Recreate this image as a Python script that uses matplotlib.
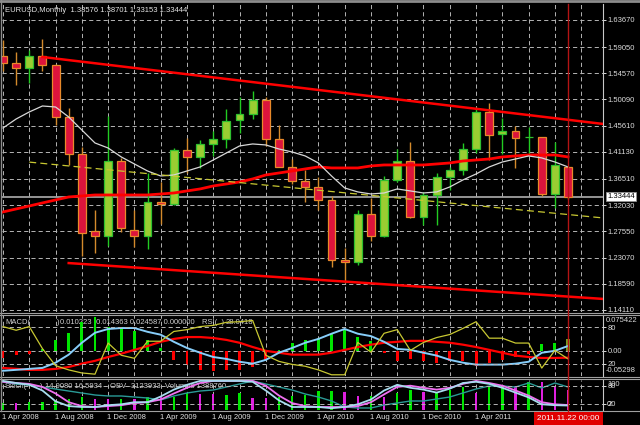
import matplotlib
matplotlib.use("Agg")
import matplotlib.pyplot as plt
import matplotlib.transforms as mtransforms
from matplotlib.lines import Line2D

plt.rcParams["font.family"] = ["Liberation Sans", "DejaVu Sans"]
plt.rcParams["lines.scale_dashes"] = False

# EURUSD monthly, Apr 2008 .. Nov 2011
opens = [1.5745, 1.5630, 1.5550, 1.5750, 1.5590, 1.4710, 1.4080, 1.2760, 1.2680, 1.3960,
         1.2770, 1.2670, 1.3250, 1.3230, 1.4150, 1.4030, 1.4250, 1.4330, 1.4650, 1.4760,
         1.5000, 1.4330, 1.3860, 1.3620, 1.3510, 1.3290, 1.2270, 1.2230, 1.3050, 1.2680,
         1.3630, 1.3950, 1.3000, 1.3380, 1.3690, 1.3810, 1.4160, 1.4800, 1.4415, 1.4470,
         1.4360, 1.4365, 1.3390, 1.38576]
highs = [1.6020, 1.5820, 1.5855, 1.6040, 1.5620, 1.4867, 1.4190, 1.3120, 1.4720, 1.4000,
         1.3120, 1.3750, 1.3600, 1.4180, 1.4350, 1.4317, 1.4470, 1.4846, 1.5050, 1.5150,
         1.5050, 1.4572, 1.3990, 1.3800, 1.3690, 1.3360, 1.2470, 1.3120, 1.3330, 1.3700,
         1.4157, 1.4282, 1.3430, 1.3750, 1.3860, 1.4265, 1.4880, 1.4940, 1.4700, 1.4555,
         1.4538, 1.4370, 1.4282, 1.38701]
lows = [1.5500, 1.5260, 1.5290, 1.5500, 1.4573, 1.3883, 1.2329, 1.2390, 1.2500, 1.2740,
        1.2490, 1.2450, 1.2880, 1.3200, 1.3760, 1.3837, 1.4050, 1.4180, 1.4430, 1.4676,
        1.4210, 1.3850, 1.3560, 1.3260, 1.3115, 1.2145, 1.1870, 1.2180, 1.2590, 1.2650,
        1.3600, 1.2980, 1.2860, 1.2860, 1.3460, 1.3720, 1.4090, 1.3970, 1.4075, 1.3837,
        1.4050, 1.3360, 1.3150, 1.33153]
closes = [1.5630, 1.5550, 1.5750, 1.5590, 1.4710, 1.4080, 1.2730, 1.2680, 1.3960, 1.2810,
          1.2670, 1.3250, 1.3230, 1.4150, 1.4030, 1.4250, 1.4330, 1.4640, 1.4760, 1.5000,
          1.4330, 1.3860, 1.3620, 1.3510, 1.3290, 1.2270, 1.2230, 1.3050, 1.2680, 1.3630,
          1.3950, 1.3000, 1.3380, 1.3690, 1.3810, 1.4160, 1.4800, 1.4400, 1.4470, 1.4350,
          1.4365, 1.3390, 1.3880, 1.33444]

ma_fast = [1.4521, 1.4675, 1.4795, 1.4897, 1.4880, 1.4709, 1.4487, 1.4265, 1.4179, 1.4026,
           1.3906, 1.3786, 1.3701, 1.3718, 1.3786, 1.3855, 1.3974, 1.4094, 1.4214, 1.4248,
           1.4231, 1.4162, 1.4111, 1.4043, 1.3923, 1.3701, 1.3496, 1.3428, 1.3393, 1.3410,
           1.3479, 1.3445, 1.3410, 1.3428, 1.3513, 1.3633, 1.3735, 1.3855, 1.3940, 1.3991,
           1.4043, 1.4009, 1.3940, 1.3855]
ma_slow = [1.3086, 1.3137, 1.3188, 1.3240, 1.3291, 1.3342, 1.3359, 1.3376, 1.3376, 1.3376,
           1.3376, 1.3376, 1.3393, 1.3410, 1.3445, 1.3479, 1.3530, 1.3564, 1.3598, 1.3650,
           1.3718, 1.3752, 1.3786, 1.3821, 1.3855, 1.3838, 1.3838, 1.3838, 1.3872, 1.3889,
           1.3889, 1.3889, 1.3889, 1.3906, 1.3923, 1.3957, 1.3974, 1.3991, 1.4026, 1.4043,
           1.4060, 1.4060, 1.4060, 1.4026]

# trend lines: (bar index, price) end points
upper_x, upper_y = [3, 46], [1.5735, 1.4581]
lower_x, lower_y = [5, 46], [1.2212, 1.1594]
yellow_x, yellow_y = [2, 46], [1.3938, 1.2976]

price_ticks = [1.6367, 1.5905, 1.5457, 1.5009, 1.4561, 1.4113,
               1.3651, 1.3203, 1.2755, 1.2307, 1.1859, 1.1411]

macd_main = [-0.042, -0.040, -0.038, -0.036, -0.025, -0.008, 0.017, 0.038, 0.046, 0.048,
             0.048, 0.040, 0.034, 0.019, 0.006, -0.004, -0.013, -0.017, -0.023, -0.027,
             -0.019, -0.004, 0.006, 0.017, 0.025, 0.036, 0.046, 0.036, 0.031, 0.019,
             0.004, 0.002, -0.004, -0.010, -0.019, -0.025, -0.029, -0.029, -0.029, -0.027,
             -0.023, -0.004, 0.000, 0.010223]
macd_signal = [-0.036, -0.038, -0.040, -0.040, -0.038, -0.034, -0.027, -0.021, -0.013, -0.006,
               0.002, 0.010, 0.019, 0.025, 0.029, 0.029, 0.027, 0.023, 0.017, 0.008,
               0.000, -0.004, -0.008, -0.008, -0.008, -0.004, 0.002, 0.008, 0.013, 0.017,
               0.019, 0.021, 0.021, 0.019, 0.017, 0.013, 0.008, 0.002, -0.004, -0.010,
               -0.013, -0.015, -0.015, -0.014363]
macd_hist = [-0.015, -0.008, -0.006, 0.004, 0.023, 0.038, 0.061, 0.071, 0.050, 0.050,
             0.042, 0.023, 0.006, -0.019, -0.029, -0.040, -0.042, -0.040, -0.040, -0.034,
             -0.019, 0.002, 0.017, 0.023, 0.027, 0.036, 0.044, 0.029, 0.021, -0.004,
             -0.021, -0.017, -0.021, -0.025, -0.021, -0.021, -0.031, -0.025, -0.019, -0.013,
             -0.006, 0.015, 0.017, 0.024587]
rsi = [81, 75, 81, 45, 17, 10, 5, 3, 54, 34,
       29, 57, 57, 73, 76, 81, 83, 88, 89, 91,
       34, 24, 19, 16, 10, 2, 2, 55, 39, 70,
       76, 42, 55, 63, 68, 78, 89, 62, 62, 54,
       54, 13, 42, 28.0418]

stoch_main = [97, 90, 84, 65, 29, 13, 10, 10, 16, 19,
              26, 26, 45, 68, 84, 97, 97, 97, 97, 94,
              65, 32, 10, 10, 10, 6, 10, 19, 35, 65,
              84, 74, 68, 58, 71, 90, 94, 87, 74, 58,
              42, 19, 16, 14.9080]
stoch_signal = [94, 90, 87, 77, 55, 26, 13, 10, 13, 16,
                23, 26, 35, 55, 74, 90, 97, 97, 97, 97,
                81, 48, 23, 13, 10, 10, 10, 13, 26, 52,
                77, 81, 74, 68, 74, 87, 97, 90, 81, 65,
                48, 26, 19, 16.5934]
obv = [-0.89, -1.78, -2.23, -3.12, -4.01, -4.90, -5.79, -6.68, -7.12, -7.12,
       -7.57, -8.01, -8.90, -7.12, -5.79, -4.90, -4.45, -3.12, -1.78, -0.45,
       -1.78, -3.12, -4.45, -6.23, -7.57, -9.35, -12.02, -12.46, -12.46, -11.13,
       -10.24, -9.35, -9.35, -8.46, -7.57, -5.79, -4.01, -2.67, -2.67, -3.12,
       -1.34, -3.56, -1.34, -3.123933]  # millions
volume = [486, 470, 556, 570, 625, 764, 903, 764, 750, 770,
          740, 903, 880, 900, 1181, 1111, 1100, 1042, 1181, 833,
          833, 903, 972, 1042, 1319, 1340, 1250, 972, 990, 903,
          1181, 1389, 1250, 1181, 1389, 1597, 1181, 1667, 1736, 1667,
          1944, 1930, 1597, 1388.76]  # thousands
vol_up = "GMGGGGGMMG" "MGMGGMMGGM" "MGGGGGMMGM" "GGMGGGMGGM" "GMMM"

date_idx = [0, 4, 8, 12, 16, 20, 24, 28, 32, 36]
date_labels = ["1 Apr 2008", "1 Aug 2008", "1 Dec 2008", "1 Apr 2009", "1 Aug 2009",
               "1 Dec 2009", "1 Apr 2010", "1 Aug 2010", "1 Dec 2010", "1 Apr 2011"]
cursor_label = "2011.11.22 00:00"

n = len(closes)
x = list(range(n))

W, H = 640, 425
GRID = "#b4b4b4"
FS = 5.5
XMIN, XMAX = -0.076, 45.66


def fy(y):
    return 1 - y / H


def rect(top, bottom):
    return [2 / W, 1 - bottom / H, 601 / W, (bottom - top) / H]


fig = plt.figure(figsize=(6.4, 4.25), dpi=100, facecolor="black")
ax = fig.add_axes(rect(4, 312))
ax_m = fig.add_axes(rect(315, 376))
ax_s = fig.add_axes(rect(380, 410))

for a in (ax, ax_m, ax_s):
    a.set_facecolor("black")
    a.set_xlim(XMIN, XMAX)
    a.set_xticks([])
    for side in ("top", "bottom", "left"):
        a.spines[side].set_visible(False)
    a.spines["right"].set_color("#c8c8c8")
    a.spines["right"].set_linewidth(0.8)
    for i in range(0, 46, 2):
        a.axvline(i, color=GRID, lw=0.7, dashes=(3, 2.2), zorder=0)

# main price panel
ax.set_ylim(1.13755, 1.66405)
ax.yaxis.tick_right()
ax.set_yticks(price_ticks)
ax.set_yticklabels([f"{v:.5f}" for v in price_ticks])
for v in price_ticks:
    ax.axhline(v, color=GRID, lw=0.7, dashes=(3, 2.2), zorder=0)

ax.axhline(closes[-1], color="#a0a0a0", lw=1.3, zorder=2)

bull = [c >= o for o, c in zip(opens, closes)]
wick_col = ["#22cc22" if b else "#d48a2c" for b in bull]
body_col = ["#9acd32" if b else "#dc143c" for b in bull]
edge_col = ["#2fbf2f" if b else "#e8892a" for b in bull]
ax.vlines(x, lows, highs, colors=wick_col, lw=1.0, zorder=3)
ax.bar(x, [c - o for o, c in zip(opens, closes)], bottom=opens, width=0.6,
       color=body_col, edgecolor=edge_col, linewidth=0.9, zorder=4)

ax.plot(x, ma_slow, color="#ff0000", lw=2.0, zorder=5)
ax.plot(x, ma_fast, color="#d8d8d8", lw=0.9, zorder=5)
ax.plot(upper_x, upper_y, color="#ff0000", lw=1.8, zorder=5)
ax.plot(lower_x, lower_y, color="#ff0000", lw=1.8, zorder=5)
ax.plot(yellow_x, yellow_y, color="#c8c832", lw=0.9, dashes=(5, 3), zorder=5)

fig.text(5 / W, fy(10),
         f"EURUSD,Monthly  {opens[-1]:.5f} {highs[-1]:.5f} {lows[-1]:.5f} {closes[-1]:.5f}",
         color="#e6e6e6", fontsize=FS, va="center", ha="left")
fig.text(607 / W, fy(196.5), f"{closes[-1]:.5f}", color="black", fontsize=FS,
         va="center", ha="left", zorder=10,
         bbox=dict(boxstyle="square,pad=0.15", fc="white", ec="#909090", lw=0.6))

# MACD + RSI panel
ax_m.set_ylim(-0.05298, 0.075422)
ax_m.axhline(0, color=GRID, lw=0.7, dashes=(3, 2.2), zorder=0)
hist_col = ["#00e600" if v > 0 else "#ff0000" for v in macd_hist]
hist_col[-1] = "#7a9a20"
hist_w = [0.22] * n
hist_w[-1] = 0.3
ax_m.bar(x, macd_hist, width=hist_w, color=hist_col, zorder=2)
ax_m.plot(x, macd_signal, color="#ff0000", lw=1.6, zorder=3)
ax_m.plot(x, macd_main, color="#87cefa", lw=1.4, zorder=3)

txt = dict(color="#d0d0d0", fontsize=FS, va="center", ha="left",
           transform=fig.transFigure, zorder=1)
ax_m.text(5 / W, fy(322), "MACD(", **txt)
ax_m.text(57 / W, fy(322), ")", **txt)
ax_m.text(60 / W, fy(322),
          f"{macd_main[-1]:.6f} {macd_signal[-1]:.6f} {macd_hist[-1]:.6f} 0.000000", **txt)
ax_m.text(202 / W, fy(322), "RSI(  )", **txt)
ax_m.text(226 / W, fy(322), f"{rsi[-1]:.4f}", **txt)

ax_r = ax_m.twinx()
ax_r.set_xlim(XMIN, XMAX)
ax_r.set_ylim(0, 100)
for s in ax_r.spines.values():
    s.set_visible(False)
ax_r.set_yticks([80, 20])
ax_r.set_yticklabels(["80", "20"])
ax_r.axhline(80, color=GRID, lw=0.7, dashes=(3, 2.2), zorder=0)
ax_r.axhline(20, color=GRID, lw=0.7, dashes=(3, 2.2), zorder=0)
ax_r.plot(x, rsi, color="#c8c832", lw=0.9)

# twinx moves the base ticks to the left, so set them after it
ax_m.yaxis.tick_right()
ax_m.set_yticks([0])
ax_m.set_yticklabels(["0.00"])
fig.text(606 / W, fy(320), "0.075422", color="#dcdcdc", fontsize=FS, va="center")
fig.text(606 / W, fy(371), "-0.05298", color="#dcdcdc", fontsize=FS, va="center")

# Stochastic / OBV / Volumes panel
ax_s.set_ylim(0, 2083)
vol_col = ["#00e600" if c == "G" else "#e020e0" for c in vol_up]
ax_s.bar(x, volume, width=0.18, color=vol_col, zorder=2)
ax_s.text(5 / W, fy(387), "Stoch(", **txt)
ax_s.text(40 / W, fy(387), ")", **txt)
ax_s.text(45 / W, fy(387), f"{stoch_main[-1]:.4f} {stoch_signal[-1]:.4f}", **txt)
ax_s.text(110 / W, fy(387), f"OBV {round(obv[-1] * 1e6)}", **txt)
ax_s.text(165 / W, fy(387), f"Volumes {round(volume[-1] * 1000)}", **txt)

ax_o = ax_s.twinx()
ax_o.set_xlim(XMIN, XMAX)
ax_o.set_ylim(-13.36, 0)
ax_o.set_yticks([])
for s in ax_o.spines.values():
    s.set_visible(False)
ax_o.plot(x, obv, color="#2a9a96", lw=1.0)

ax_k = ax_s.twinx()
ax_k.set_xlim(XMIN, XMAX)
ax_k.set_ylim(0, 100)
for s in ax_k.spines.values():
    s.set_visible(False)
ax_k.set_yticks([80, 20])
ax_k.set_yticklabels(["80", "20"])
ax_k.axhline(80, color=GRID, lw=0.7, dashes=(3, 2.2), zorder=0)
ax_k.axhline(20, color=GRID, lw=0.7, dashes=(3, 2.2), zorder=0)
ax_k.plot(x, stoch_signal, color="#f070f0", lw=1.3)
ax_k.plot(x, stoch_main, color="#a8dcef", lw=1.3)
ax_s.set_yticks([])
fig.text(607 / W, fy(384.5), "100", color="#dcdcdc", fontsize=FS, va="center")
fig.text(607 / W, fy(404.5), "0", color="#dcdcdc", fontsize=FS, va="center")

for a in (ax, ax_m, ax_r, ax_k):
    a.tick_params(axis="y", colors="#dcdcdc", labelsize=FS, length=2.2, width=0.7, pad=1)

# frame and panel separators
for yy in (312.5, 314.5, 376.5, 378.8, 410.5):
    fig.add_artist(Line2D([0, 1], [fy(yy), fy(yy)], color="#a0a0a0", lw=0.8, zorder=5))
fig.add_artist(Line2D([0, 1], [fy(1.2), fy(1.2)], color="#8c8c8c", lw=2.0, zorder=5))
fig.add_artist(Line2D([0.6 / W, 0.6 / W], [fy(0), fy(411)], color="#8c8c8c", lw=1.0, zorder=5))

# cursor line and date labels
blend = mtransforms.blended_transform_factory(ax_s.transData, fig.transFigure)
fig.add_artist(Line2D([n - 1, n - 1], [fy(4), fy(412)], transform=blend,
                      color="#b41414", lw=1.0, zorder=6))
for i, lab in zip(date_idx, date_labels):
    fig.text(i - 0.08, fy(417.5), lab, transform=blend, color="#e0e0e0",
             fontsize=FS, va="center", ha="left")
fig.text(n - 1, fy(418.5), cursor_label, transform=blend, color="white",
         fontsize=5.9, va="center", ha="center", zorder=7,
         bbox=dict(boxstyle="square,pad=0.4", fc="#e00000", ec="none"))

fig.savefig("out.png", dpi=100, facecolor="black")
